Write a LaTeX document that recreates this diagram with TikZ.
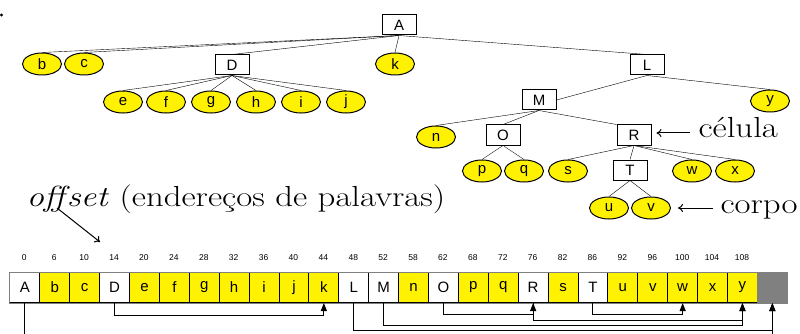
\documentclass[tikz,border=0pt]{standalone}
\usepackage{fontspec}
\newfontfamily\labelsans{Liberation Sans}
% a slightly widened roman for the captions
\newfontfamily\notefont[FakeStretch=1.2]{Latin Modern Roman}
\usetikzlibrary{arrows.meta,shapes.geometric,backgrounds}
\definecolor{leafyellow}{RGB}{255,242,0}
\definecolor{stripgray}{RGB}{128,128,128}
\begin{document}
\begin{tikzpicture}[x=1pt,y=-1pt,line width=1pt,
  inner/.style={draw, fill=white, minimum width=34pt, minimum height=20pt, inner sep=0pt,
    font=\labelsans\fontsize{15}{15}\selectfont},
  leaf/.style={draw, ellipse, fill=leafyellow, minimum width=39pt, minimum height=22pt, inner sep=0pt,
    font=\labelsans\fontsize{15}{15}\selectfont},
  cell/.style={draw, minimum width=29.9pt, minimum height=30pt, inner sep=0pt, anchor=north west,
    font=\labelsans\fontsize{15}{15}\selectfont},
  num/.style={inner sep=0pt, font=\labelsans\fontsize{8.5}{9}\selectfont},
  note/.style={inner sep=0pt, anchor=base west, font=\notefont\fontsize{29}{30}\selectfont},
  link/.style={-{Triangle[width=6pt,length=8pt]}},
  pointer/.style={-{To[length=5pt,width=8pt]}}
]
\useasboundingbox (0,0) rectangle (800,334);
\fill (1.5,15) circle (1.6pt);

% the tree
\node[inner] (tA) at (399,25) {A};
\node[leaf] (tb) at (42,64) {b};
\node[leaf] (tc) at (84,64) {c};
\node[inner] (tD) at (232,65) {D};
\node[leaf] (tk) at (395,64) {k};
\node[inner] (tL) at (647,65) {L};
\node[leaf] (te) at (123,102) {e};
\node[leaf] (tf) at (166,102) {f};
\node[leaf] (tg) at (211,102) {g};
\node[leaf] (th) at (256,102) {h};
\node[leaf] (ti) at (301,102) {i};
\node[leaf] (tj) at (346,102) {j};
\node[inner] (tM) at (539,100) {M};
\node[leaf] (ty) at (770,101) {y};
\node[leaf] (tn) at (436,137) {n};
\node[inner] (tO) at (503,135) {O};
\node[inner] (tR) at (634,135) {R};
\node[leaf] (tp) at (482,171) {p};
\node[leaf] (tq) at (524,171) {q};
\node[leaf] (ts) at (568,171) {s};
\node[inner] (tT) at (630,170) {T};
\node[leaf] (tw) at (692,171) {w};
\node[leaf] (tx) at (735,171) {x};
\node[leaf] (tu) at (609,208) {u};
\node[leaf] (tv) at (651,208) {v};

\begin{scope}[on background layer]
  \foreach \kid in {tb,tc,tD,tk,tL} \draw (tA.south) -- (\kid.north);
  \foreach \kid in {te,tf,tg,th,ti,tj} \draw (tD.south) -- (\kid.north);
  \draw (tL.south) -- (tM.east);
  \draw (tL.south) -- (ty.north);
  \draw (tM.south) -- (tn.north);
  \draw (tM.south) -- (tO.north);
  \draw (tM.south) -- (tR.north west);
  \foreach \kid in {tp,tq} \draw (tO.south) -- (\kid.north);
  \foreach \kid in {ts,tT,tw,tx} \draw (tR.south) -- (\kid.north);
  \foreach \kid in {tu,tv} \draw (tT.south) -- (\kid.north);
\end{scope}

% annotations
\node[note] (celula) at (698,137) {célula};
\node[note] (corpo) at (720,213) {corpo};
\node[note] (offlabel) at (26,206) {\textit{off\kern2pt set} (endereços de palavras)};
\coordinate (celtail) at (690,133);
\coordinate (cortail) at (713,208);
\coordinate (offtail) at (57,208);
\coordinate (offhead) at (100,242);
\draw[pointer, shorten >=5pt] (celtail) -- (celtail -| tR.east);
\draw[pointer, shorten >=7pt] (cortail) -- (cortail -| tv.east);
\draw[pointer] (offtail) -- (offhead);

% the linear layout with offsets
\foreach \lab/\fillc/\off [count=\i from 0] in {
  A/white/0, b/leafyellow/6, c/leafyellow/10, D/white/14, e/leafyellow/20,
  f/leafyellow/24, g/leafyellow/28, h/leafyellow/32, i/leafyellow/36, j/leafyellow/40,
  k/leafyellow/44, L/white/48, M/white/52, n/leafyellow/58, O/white/62,
  p/leafyellow/68, q/leafyellow/72, R/white/76, s/leafyellow/82, T/white/86,
  u/leafyellow/92, v/leafyellow/96, w/leafyellow/100, x/leafyellow/104, y/leafyellow/108} {
  \node[cell, fill=\fillc] (m\i) at ({9.4+29.9*\i},272) {\lab};
  \node[num] (o\i) at ({24.35+29.9*\i},258) {\off};
}
\node[cell, fill=stripgray, draw=stripgray] (m25) at ({9.4+29.9*25},272) {};
\draw[stripgray] (m0.north west) rectangle (m25.south east);

\coordinate (bottom) at (0,334);
\draw (m0.south) -- (m0.south |- bottom);
\draw[link] (m3.south) -- ++(0,12) -| (m10.south);
\draw[link] (m14.south) -- ++(0,11) -| (m17.south);
\draw[link] (m19.south) -- ++(0,11) -| (m22.south);
\draw[link] (m17.south) -- ++(0,17) -| (m24.south);
\draw[link] (m12.south) -- ++(0,22) -| (m24.south);
\draw[link] (m11.south) -- ++(0,27) -| (m25.south);
\draw[link] (m25.south |- bottom) -- (m25.south);
\end{tikzpicture}
\end{document}
